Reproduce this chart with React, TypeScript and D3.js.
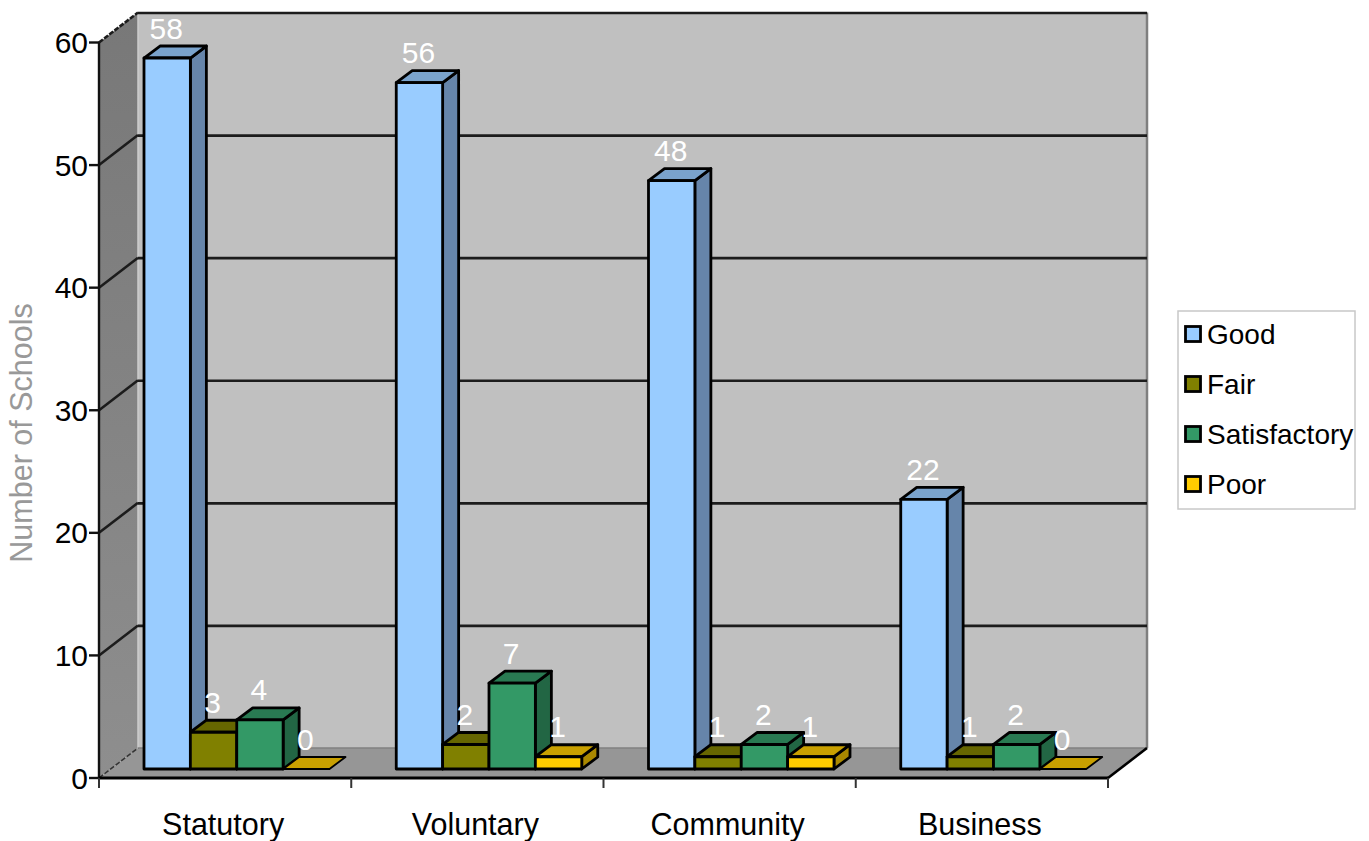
import React from "react";
import * as d3 from "d3";

const categories = ["Statutory", "Voluntary", "Community", "Business"];
const seriesNames = ["Good", "Fair", "Satisfactory", "Poor"];
const good = [58, 56, 48, 22];
const fair = [3, 2, 1, 1];
const satisfactory = [4, 7, 2, 2];
const poor = [0, 1, 1, 0];
const yTicks = [0, 10, 20, 30, 40, 50, 60];

const seriesValues = [good, fair, satisfactory, poor];
const frontColors = ["#99ccff", "#808000", "#339966", "#ffcc00"];
const topColors = ["#7aa3cc", "#666600", "#297a52", "#c9a000"];
const sideColors = ["#6685aa", "#555500", "#226644", "#aa8800"];

const FONT = "'Liberation Sans', Arial, sans-serif";
const WALL_DX = 39;
const WALL_DY = -30;
const BAR_DX = 16;
const BAR_DY = -12;
const BAR_PLANE_DY = -9;

const y = d3.scaleLinear().domain([0, 60]).range([778, 42.5]);
const x = d3.scaleBand<string>().domain(categories).range([99, 1108]);
const inner = d3.scaleBand<string>().domain(seriesNames).range([45, 230.5]);

const pts = (p: number[][]) => p.map((d) => d.join(",")).join(" ");

function Bar({ x0, w, value, s }: { x0: number; w: number; value: number; s: number }) {
  const base = y(0) + BAR_PLANE_DY;
  const top = y(value) + BAR_PLANE_DY;
  const x1 = x0 + w;
  const stroke = { stroke: "#000", strokeWidth: value === 0 ? 1.8 : 2.8, strokeLinejoin: "round" as const };
  return (
    <g>
      {value > 0 && (
        <polygon
          points={pts([[x1, top], [x1 + BAR_DX, top + BAR_DY], [x1 + BAR_DX, base + BAR_DY], [x1, base]])}
          fill={sideColors[s]}
          {...stroke}
        />
      )}
      <polygon
        points={pts([[x0, top], [x0 + BAR_DX, top + BAR_DY], [x1 + BAR_DX, top + BAR_DY], [x1, top]])}
        fill={topColors[s]}
        {...stroke}
      />
      {value > 0 && <rect x={x0} y={top} width={w} height={base - top} fill={frontColors[s]} {...stroke} />}
    </g>
  );
}

export default function App() {
  const x0 = x.range()[0];
  const x1 = x.range()[1];
  const yBottom = y(0);
  const yTop = y(60);
  const backL = x0 + WALL_DX;
  const backR = x1 + WALL_DX;
  const backBottom = yBottom + WALL_DY;
  const backTop = yTop + WALL_DY;

  return (
    <svg
      width={1369}
      height={841}
      style={{ position: "absolute", left: 0, top: 0, fontFamily: FONT }}
    >
      <defs>
        <linearGradient id="sideWall" x1="0" y1="0" x2="0" y2="1">
          <stop offset="0" stopColor="#787878" />
          <stop offset="1" stopColor="#8e8e8e" />
        </linearGradient>
      </defs>
      <rect width={1369} height={841} fill="#fff" />

      {/* Box walls and floor */}
      <rect x={backL} y={backTop} width={backR - backL} height={backBottom - backTop} fill="#c0c0c0" />
      <polygon
        points={pts([[x0, yTop], [backL, backTop], [backL, backBottom], [x0, yBottom]])}
        fill="url(#sideWall)"
      />
      <polygon
        points={pts([[x0, yBottom], [backL, backBottom], [backR, backBottom], [x1, yBottom]])}
        fill="#969696"
      />
      <line x1={backR} x2={backR} y1={backTop} y2={backBottom} stroke="#7f7f7f" strokeWidth={2.5} />
      <line x1={backL} x2={backL} y1={backTop} y2={backBottom} stroke="#cccccc" strokeWidth={1.5} />
      <line x1={backL} x2={backR} y1={backBottom} y2={backBottom} stroke="#808080" strokeWidth={1.5} />

      {/* Gridlines across the side and back walls */}
      {yTicks.slice(1).map((t) => {
        const isTop = t === 60;
        return (
          <g key={t} stroke="#1c1c1c" strokeWidth={2.6}>
            <line x1={backL} x2={backR} y1={y(t) + WALL_DY + 0.5} y2={y(t) + WALL_DY + 0.5} />
            <line
              x1={x0}
              x2={backL}
              y1={y(t)}
              y2={y(t) + WALL_DY}
              strokeDasharray={isTop ? "5 1.5" : undefined}
            />
          </g>
        );
      })}
      <line
        x1={x0}
        x2={backL}
        y1={yBottom}
        y2={backBottom}
        stroke="#333"
        strokeWidth={1.5}
        strokeDasharray="5 2"
      />
      <line x1={x1} x2={backR} y1={yBottom} y2={backBottom} stroke="#000" strokeWidth={2.6} />

      {/* Axes */}
      <line x1={x0} x2={x0} y1={yTop} y2={yBottom} stroke="#111" strokeWidth={2.4} />
      <line x1={x0} x2={x1} y1={yBottom} y2={yBottom} stroke="#000" strokeWidth={2.8} />
      {yTicks.map((t) => (
        <g key={t}>
          <line x1={x0 - 10} x2={x0} y1={y(t)} y2={y(t)} stroke="#111" strokeWidth={2.4} />
          <text x={88} y={y(t) + 10.5} textAnchor="end" fontSize={30} fill="#000">
            {t}
          </text>
        </g>
      ))}
      {[...categories.map((c) => x(c) as number), x1].map((tx) => (
        <line key={tx} x1={tx} x2={tx} y1={yBottom} y2={yBottom + 10} stroke="#333" strokeWidth={2} />
      ))}
      {categories.map((c) => (
        <text
          key={c}
          x={(x(c) as number) + x.bandwidth() / 2 - 2}
          y={834.5}
          textAnchor="middle"
          fontSize={30.5}
          fill="#000"
        >
          {c}
        </text>
      ))}

      <text
        transform={`translate(32,433) rotate(-90)`}
        textAnchor="middle"
        fontSize={30.5}
        fill="#999"
      >
        Number of Schools
      </text>

      {/* Bars */}
      {categories.map((c, ci) =>
        seriesNames.map((name, si) => (
          <Bar
            key={c + name}
            x0={(x(c) as number) + (inner(name) as number)}
            w={inner.bandwidth()}
            value={seriesValues[si][ci]}
            s={si}
          />
        ))
      )}

      {/* Value labels sit above everything so they overlap neighbouring bars */}
      {categories.map((c, ci) =>
        seriesNames.map((name, si) => (
          <text
            key={c + name}
            x={(x(c) as number) + (inner(name) as number) + inner.bandwidth() / 2 - 1}
            y={y(seriesValues[si][ci]) + BAR_PLANE_DY + BAR_DY - 7.5}
            textAnchor="middle"
            fontSize={30}
            fill="#fff"
          >
            {seriesValues[si][ci]}
          </text>
        ))
      )}

      {/* Legend */}
      <rect x={1178} y={311} width={177} height={198} fill="#fff" stroke="#c8c8c8" strokeWidth={1.5} />
      {seriesNames.map((name, i) => (
        <g key={name}>
          <rect
            x={1185.5}
            y={326.5 + i * 50}
            width={15}
            height={15}
            fill={frontColors[i]}
            stroke="#000"
            strokeWidth={2.8}
          />
          <text x={1207} y={344 + i * 50} fontSize={28} fill="#000">
            {name}
          </text>
        </g>
      ))}
    </svg>
  );
}
